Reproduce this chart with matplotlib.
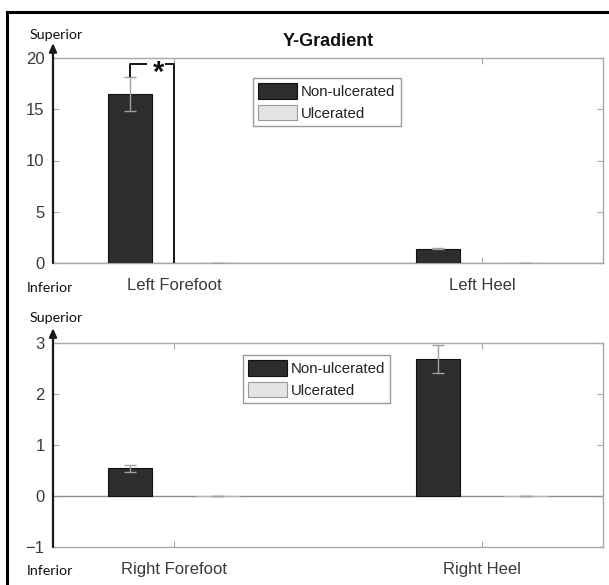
import matplotlib
matplotlib.use("Agg")
import matplotlib.pyplot as plt
from matplotlib.lines import Line2D
from matplotlib.patches import Patch
import numpy as np

# Y-gradient means and standard errors per foot region
groups = ["Non-ulcerated", "Ulcerated"]

left_regions = ["Left Forefoot", "Left Heel"]
left_nonulc = [16.45, 1.40]
left_nonulc_err = [1.65, 0.05]
left_ulc = [0.0, 0.0]
left_ulc_err = [0.0, 0.0]

right_regions = ["Right Forefoot", "Right Heel"]
right_nonulc = [0.54, 2.69]
right_nonulc_err = [0.06, 0.27]
right_ulc = [0.0, 0.0]
right_ulc_err = [0.0, 0.0]

left_ylim = (0, 20)
left_yticks = [0, 5, 10, 15, 20]
right_ylim = (-1, 3)
right_yticks = [-1, 0, 1, 2, 3]

plt.rcParams["font.family"] = ["Liberation Sans", "DejaVu Sans"]

W, H = 609, 585
fig = plt.figure(figsize=(W / 100, H / 100), dpi=100)

BAR_DARK = "#2d2d2d"
BAR_LIGHT = "#e4e4e4"
FRAME = "#a8a8a8"
TXT = "#3a3a3a"
ERR = "#a0a0a0"

width = 0.143
offset = 0.142


def px_axes(left, top, right, bottom):
    return fig.add_axes([left / W, 1 - bottom / H, (right - left) / W, (bottom - top) / H])


def draw_panel(ax, regions, nonulc, nonulc_err, ulc, ulc_err, ylim, yticks, legend_anchor):
    x = np.arange(1, len(regions) + 1)
    ax.bar(x - offset, nonulc, width, color=BAR_DARK, edgecolor="#111111", linewidth=0.8, zorder=3)
    ax.bar(x + offset, ulc, width, color=BAR_LIGHT, edgecolor="#b5b5b5", linewidth=0.8, zorder=3)
    ax.errorbar(x - offset, nonulc, yerr=nonulc_err, fmt="none", ecolor=ERR,
                elinewidth=1.0, capsize=4, capthick=1.0, zorder=4)
    ax.errorbar(x + offset, ulc, yerr=ulc_err, fmt="none", ecolor=ERR,
                elinewidth=1.0, capsize=4, capthick=1.0, zorder=4)
    ax.axhline(0, color="#8c8c8c", lw=1.0, zorder=2)
    ax.set_xlim(1 - 0.393, len(regions) + 0.393)
    ax.set_ylim(*ylim)
    ax.set_yticks(yticks)
    ax.set_xticks(x)
    ax.set_xticklabels(regions)
    ax.tick_params(direction="in", top=True, right=True, length=4, width=0.8,
                   color=FRAME, labelcolor=TXT, labelsize=12, pad=6)
    ax.tick_params(axis="x", pad=10.5)
    for s in ax.spines.values():
        s.set_color(FRAME)
        s.set_linewidth(1.0)
    ax.spines["left"].set_visible(False)
    # dark vertical axis with arrowhead
    ax.annotate("", xy=(0, 1.073), xycoords="axes fraction", xytext=(0, 0),
                textcoords="axes fraction",
                arrowprops=dict(arrowstyle="-|>,head_length=0.5,head_width=0.22",
                                color="#1a1a1a", lw=1.6, shrinkA=0, shrinkB=0),
                annotation_clip=False, zorder=6)
    handles = [Patch(facecolor=BAR_DARK, edgecolor="#111111", linewidth=0.8),
               Patch(facecolor=BAR_LIGHT, edgecolor="#9a9a9a", linewidth=0.8)]
    leg = ax.legend(handles, groups, loc="upper left", bbox_to_anchor=legend_anchor,
                    borderaxespad=0, fontsize=10.8, fancybox=False, framealpha=1,
                    edgecolor="#9a9a9a", handlelength=2.6, handleheight=1.2,
                    handletextpad=0.25, labelspacing=0.4, borderpad=0.35)
    leg.get_frame().set_linewidth(1.0)
    for t in leg.get_texts():
        t.set_color("#222222")
    return x


ax1 = px_axes(53, 58, 603, 263)
x1 = draw_panel(ax1, left_regions, left_nonulc, left_nonulc_err, left_ulc, left_ulc_err,
                left_ylim, left_yticks, (0.364, 0.902))
ax1.set_title("Y-Gradient", fontsize=13, fontweight="bold", color="#111111", pad=9)

# significance bracket over the left forefoot
bx0 = x1[0] - offset
bx1 = x1[0]
by = 19.4
ytop = left_nonulc[0] + left_nonulc_err[0]
bk = dict(color="#151515", lw=1.4, solid_capstyle="butt", zorder=5, clip_on=False)
ax1.plot([bx0, bx0, bx0 + 0.055], [ytop, by, by], **bk)
ax1.plot([bx1 - 0.03, bx1, bx1], [by, by, 0], **bk)
ax1.text((bx0 + bx1) / 2 + 0.02, by - 0.9, "*", ha="center", va="center",
         fontsize=21, fontweight="bold", color="#111111", zorder=6)

ax2 = px_axes(53, 343, 603, 547)
draw_panel(ax2, right_regions, right_nonulc, right_nonulc_err, right_ulc, right_ulc_err,
           right_ylim, right_yticks, (0.345, 0.941))

# direction labels
lab = dict(family=["Lato", "DejaVu Sans"], fontsize=10.3, color="#111111", va="center", ha="left")
fig.text(30 / W, 1 - 35 / H, "Superior", **lab)
fig.text(27 / W, 1 - 288 / H, "Inferior", **lab)
fig.text(30 / W, 1 - 318 / H, "Superior", **lab)
fig.text(27 / W, 1 - 571 / H, "Inferior", **lab)

# outer frame lines
fig.add_artist(Line2D([7 / W, 7 / W], [0, 1 - 12 / H], color="black", lw=2.2))
fig.add_artist(Line2D([7 / W, 1], [1 - 12 / H, 1 - 12 / H], color="black", lw=2.2))

fig.savefig("out.png", dpi=100, facecolor="white")
